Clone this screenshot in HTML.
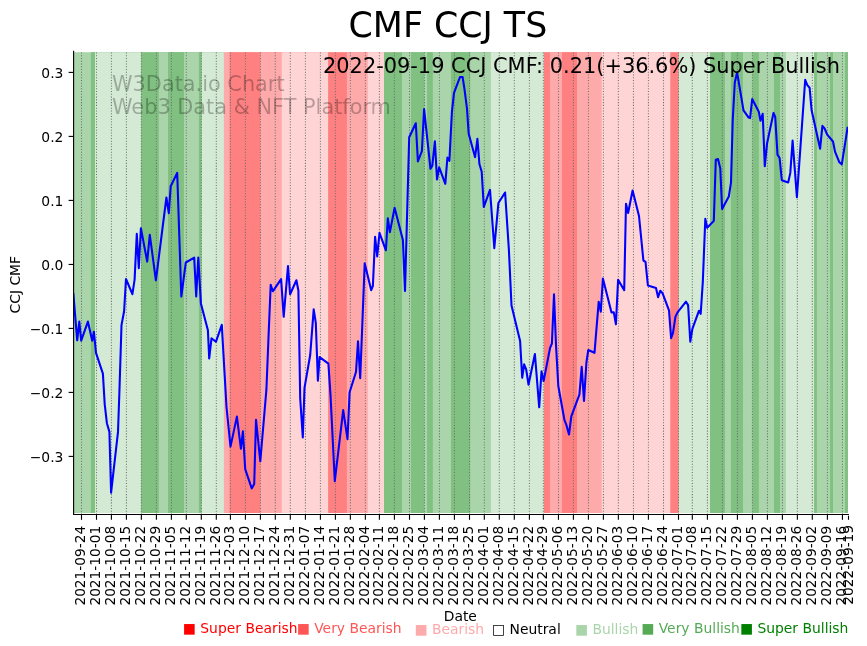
<!DOCTYPE html>
<html lang="en"><head><meta charset="utf-8"><title>CMF CCJ TS</title>
<style>html,body{margin:0;padding:0;background:#fff}svg{display:block;will-change:transform}text{font-family:"DejaVu Sans", "Liberation Sans", sans-serif}</style>
</head><body>
<svg width="867" height="646" viewBox="0 0 867 646">
<rect width="867" height="646" fill="#fff"/>
<g shape-rendering="auto">
<rect x="73.60" y="52.20" width="774.30" height="460.80" fill="#aad5aa"/>
<rect x="90.90" y="52.20" width="757.00" height="460.80" fill="#80c080"/>
<rect x="94.95" y="52.20" width="752.95" height="460.80" fill="#d4ead4"/>
<rect x="141.10" y="52.20" width="706.80" height="460.80" fill="#80c080"/>
<rect x="158.86" y="52.20" width="689.04" height="460.80" fill="#aad5aa"/>
<rect x="168.00" y="52.20" width="679.90" height="460.80" fill="#80c080"/>
<rect x="183.96" y="52.20" width="663.94" height="460.80" fill="#aad5aa"/>
<rect x="198.90" y="52.20" width="649.00" height="460.80" fill="#80c080"/>
<rect x="201.70" y="52.20" width="646.20" height="460.80" fill="#d4ead4"/>
<rect x="223.90" y="52.20" width="624.00" height="460.80" fill="#ffaaaa"/>
<rect x="229.60" y="52.20" width="618.30" height="460.80" fill="#ff8080"/>
<rect x="260.40" y="52.20" width="587.50" height="460.80" fill="#ffaaaa"/>
<rect x="281.80" y="52.20" width="566.10" height="460.80" fill="#ffd4d4"/>
<rect x="328.10" y="52.20" width="519.80" height="460.80" fill="#ff8080"/>
<rect x="346.90" y="52.20" width="501.00" height="460.80" fill="#ffaaaa"/>
<rect x="367.80" y="52.20" width="480.10" height="460.80" fill="#ffd4d4"/>
<rect x="384.00" y="52.20" width="463.90" height="460.80" fill="#80c080"/>
<rect x="402.00" y="52.20" width="445.90" height="460.80" fill="#aad5aa"/>
<rect x="411.00" y="52.20" width="436.90" height="460.80" fill="#80c080"/>
<rect x="424.30" y="52.20" width="423.60" height="460.80" fill="#aad5aa"/>
<rect x="427.10" y="52.20" width="420.80" height="460.80" fill="#80c080"/>
<rect x="432.80" y="52.20" width="415.10" height="460.80" fill="#aad5aa"/>
<rect x="450.96" y="52.20" width="396.94" height="460.80" fill="#80c080"/>
<rect x="470.25" y="52.20" width="377.65" height="460.80" fill="#aad5aa"/>
<rect x="490.90" y="52.20" width="357.00" height="460.80" fill="#d4ead4"/>
<rect x="543.86" y="52.20" width="304.04" height="460.80" fill="#ff8080"/>
<rect x="549.95" y="52.20" width="297.95" height="460.80" fill="#ffaaaa"/>
<rect x="562.00" y="52.20" width="285.90" height="460.80" fill="#ff8080"/>
<rect x="577.00" y="52.20" width="270.90" height="460.80" fill="#ffaaaa"/>
<rect x="601.70" y="52.20" width="246.20" height="460.80" fill="#ffd4d4"/>
<rect x="670.25" y="52.20" width="177.65" height="460.80" fill="#ff8080"/>
<rect x="678.70" y="52.20" width="169.20" height="460.80" fill="#d4ead4"/>
<rect x="710.00" y="52.20" width="137.90" height="460.80" fill="#80c080"/>
<rect x="724.95" y="52.20" width="122.95" height="460.80" fill="#aad5aa"/>
<rect x="730.90" y="52.20" width="117.00" height="460.80" fill="#80c080"/>
<rect x="742.97" y="52.20" width="104.93" height="460.80" fill="#aad5aa"/>
<rect x="752.50" y="52.20" width="95.40" height="460.80" fill="#80c080"/>
<rect x="758.80" y="52.20" width="89.10" height="460.80" fill="#aad5aa"/>
<rect x="773.95" y="52.20" width="73.95" height="460.80" fill="#80c080"/>
<rect x="780.00" y="52.20" width="67.90" height="460.80" fill="#aad5aa"/>
<rect x="785.90" y="52.20" width="62.00" height="460.80" fill="#d4ead4"/>
<rect x="814.10" y="52.20" width="33.80" height="460.80" fill="#80c080"/>
<rect x="816.90" y="52.20" width="31.00" height="460.80" fill="#aad5aa"/>
<rect x="830.10" y="52.20" width="17.80" height="460.80" fill="#80c080"/>
<rect x="833.00" y="52.20" width="14.90" height="460.80" fill="#aad5aa"/>
<rect x="845.00" y="52.20" width="2.90" height="460.80" fill="#80c080"/>
</g>
<g stroke="#6b7070" stroke-width="1.04" stroke-dasharray="1.0417 1.7187" fill="none">
<path d="M81.50 514.45V50.8"/>
<path d="M96.50 514.45V50.8"/>
<path d="M111.40 514.45V50.8"/>
<path d="M126.40 514.45V50.8"/>
<path d="M141.35 514.45V50.8"/>
<path d="M156.40 514.45V50.8"/>
<path d="M171.40 514.45V50.8"/>
<path d="M186.30 514.45V50.8"/>
<path d="M201.30 514.45V50.8"/>
<path d="M216.30 514.45V50.8"/>
<path d="M230.40 514.45V50.8"/>
<path d="M245.40 514.45V50.8"/>
<path d="M260.40 514.45V50.8"/>
<path d="M275.30 514.45V50.8"/>
<path d="M290.30 514.45V50.8"/>
<path d="M305.40 514.45V50.8"/>
<path d="M320.40 514.45V50.8"/>
<path d="M335.40 514.45V50.8"/>
<path d="M350.35 514.45V50.8"/>
<path d="M365.35 514.45V50.8"/>
<path d="M379.40 514.45V50.8"/>
<path d="M394.40 514.45V50.8"/>
<path d="M409.50 514.45V50.8"/>
<path d="M424.40 514.45V50.8"/>
<path d="M439.40 514.45V50.8"/>
<path d="M454.40 514.45V50.8"/>
<path d="M469.50 514.45V50.8"/>
<path d="M484.30 514.45V50.8"/>
<path d="M499.30 514.45V50.8"/>
<path d="M514.30 514.45V50.8"/>
<path d="M529.40 514.45V50.8"/>
<path d="M543.35 514.45V50.8"/>
<path d="M558.45 514.45V50.8"/>
<path d="M573.40 514.45V50.8"/>
<path d="M588.40 514.45V50.8"/>
<path d="M603.40 514.45V50.8"/>
<path d="M618.35 514.45V50.8"/>
<path d="M633.45 514.45V50.8"/>
<path d="M648.40 514.45V50.8"/>
<path d="M663.50 514.45V50.8"/>
<path d="M678.50 514.45V50.8"/>
<path d="M692.30 514.45V50.8"/>
<path d="M707.40 514.45V50.8"/>
<path d="M722.40 514.45V50.8"/>
<path d="M737.40 514.45V50.8"/>
<path d="M752.40 514.45V50.8"/>
<path d="M767.40 514.45V50.8"/>
<path d="M782.40 514.45V50.8"/>
<path d="M797.35 514.45V50.8"/>
<path d="M812.30 514.45V50.8"/>
<path d="M827.40 514.45V50.8"/>
<path d="M842.45 514.45V50.8"/>
</g>
<clipPath id="ax"><rect x="73.6" y="51.4" width="774.4" height="463.05"/></clipPath>
<polyline clip-path="url(#ax)" points="73.3,293.0 77.2,340.3 79.3,321.6 81.2,340.7 87.9,321.6 92.2,340.7 93.9,331.7 96.0,352.8 102.9,373.6 104.7,404.1 106.9,423.2 109.4,431.9 111.1,492.6 118.0,431.9 119.4,392.0 121.5,325.1 124.1,311.2 126.0,279.0 132.4,294.2 134.6,279.6 136.8,233.9 138.8,268.1 140.9,228.3 147.2,261.6 149.8,234.8 155.9,280.3 166.4,197.5 168.8,213.1 170.7,186.2 177.2,172.9 181.3,296.5 185.8,262.5 194.2,257.6 196.2,296.5 198.3,257.6 200.9,303.4 207.9,330.3 209.2,358.5 211.5,338.3 215.9,341.8 221.8,324.9 223.5,355.0 226.5,407.0 230.5,446.6 236.9,416.6 240.9,448.6 242.9,431.3 245.2,469.1 251.7,488.4 254.2,484.0 256.0,419.7 260.3,461.3 266.4,389.7 268.4,340.0 270.7,284.7 272.8,291.3 281.1,279.1 283.7,316.8 288.0,266.0 290.1,294.2 296.4,280.3 298.4,290.7 300.2,398.3 302.8,437.4 304.5,387.9 310.2,355.0 313.7,309.3 315.8,322.8 317.9,380.7 319.6,357.1 328.4,363.7 330.5,394.9 334.8,481.2 343.2,410.1 347.5,439.1 349.6,392.3 356.0,372.0 358.0,341.2 360.2,378.3 364.7,263.3 371.2,290.2 372.9,285.8 375.1,236.8 377.2,256.4 379.5,232.9 385.9,250.3 387.8,218.2 389.9,232.1 394.6,207.8 402.9,239.9 405.0,291.0 409.2,137.2 415.8,123.3 417.9,161.4 421.9,151.0 424.1,109.1 430.5,168.8 432.3,165.8 434.9,141.2 437.0,179.5 439.2,167.4 445.3,183.8 447.4,157.6 449.4,160.8 451.9,112.0 454.0,92.9 460.0,77.0 462.6,77.0 464.4,88.6 467.0,108.6 468.7,133.7 475.1,157.2 477.4,138.9 479.4,164.0 481.7,171.7 483.8,206.9 490.0,189.9 494.3,248.1 498.4,203.0 505.1,192.5 508.9,250.0 511.5,305.5 520.1,341.0 522.2,377.8 524.1,364.3 526.2,369.5 528.5,384.7 534.9,354.0 539.2,407.3 541.5,371.2 543.6,381.1 550.1,347.8 551.9,343.5 554.0,294.2 556.0,345.0 558.3,386.0 564.4,419.8 566.4,425.0 569.0,434.5 571.3,416.3 579.4,394.6 581.7,366.9 584.0,401.0 586.4,362.5 588.3,350.0 594.5,352.8 598.7,301.7 600.8,311.6 602.9,278.5 611.5,312.4 613.8,312.4 615.9,324.2 618.1,279.8 624.2,290.2 626.0,203.8 628.1,213.0 632.6,190.5 639.0,216.0 643.4,260.5 645.5,261.8 647.9,285.5 656.0,288.1 658.1,297.2 660.3,290.7 662.6,293.3 669.0,310.3 671.1,338.1 673.0,332.9 675.4,316.8 677.7,312.1 686.0,301.7 688.1,305.1 690.3,341.6 692.4,328.9 699.0,310.7 700.7,313.8 702.8,282.1 705.3,218.9 707.2,227.8 713.8,220.9 715.8,159.8 718.0,159.0 720.3,168.6 722.1,209.0 728.8,196.6 731.0,182.7 732.7,120.7 734.8,82.5 737.1,72.5 743.5,110.3 748.3,117.2 750.1,118.1 752.2,99.0 758.8,111.7 760.5,120.7 762.7,113.8 764.8,166.2 767.1,143.2 773.5,112.9 775.2,116.9 777.5,154.6 779.6,158.0 781.8,180.2 788.2,182.5 790.3,172.9 792.6,140.6 796.9,197.2 805.2,79.9 807.3,85.1 809.6,87.7 811.6,110.3 820.1,148.8 822.4,125.9 824.6,128.5 827.2,134.6 833.0,141.5 835.1,151.9 839.4,162.3 841.8,164.4 847.7,126.8" fill="none" stroke="#0000ff" stroke-width="2.08" stroke-linejoin="round" stroke-linecap="butt"/>
<g stroke="#000" stroke-width="1.11" fill="none" stroke-linecap="square">
<path d="M73.6 51.4V514.45H848.35"/>
</g>
<g stroke="#000" stroke-width="1.11" fill="none">
<path d="M81.50 514.45V519.8"/>
<path d="M96.50 514.45V519.8"/>
<path d="M111.40 514.45V519.8"/>
<path d="M126.40 514.45V519.8"/>
<path d="M141.35 514.45V519.8"/>
<path d="M156.40 514.45V519.8"/>
<path d="M171.40 514.45V519.8"/>
<path d="M186.30 514.45V519.8"/>
<path d="M201.30 514.45V519.8"/>
<path d="M216.30 514.45V519.8"/>
<path d="M230.40 514.45V519.8"/>
<path d="M245.40 514.45V519.8"/>
<path d="M260.40 514.45V519.8"/>
<path d="M275.30 514.45V519.8"/>
<path d="M290.30 514.45V519.8"/>
<path d="M305.40 514.45V519.8"/>
<path d="M320.40 514.45V519.8"/>
<path d="M335.40 514.45V519.8"/>
<path d="M350.35 514.45V519.8"/>
<path d="M365.35 514.45V519.8"/>
<path d="M379.40 514.45V519.8"/>
<path d="M394.40 514.45V519.8"/>
<path d="M409.50 514.45V519.8"/>
<path d="M424.40 514.45V519.8"/>
<path d="M439.40 514.45V519.8"/>
<path d="M454.40 514.45V519.8"/>
<path d="M469.50 514.45V519.8"/>
<path d="M484.30 514.45V519.8"/>
<path d="M499.30 514.45V519.8"/>
<path d="M514.30 514.45V519.8"/>
<path d="M529.40 514.45V519.8"/>
<path d="M543.35 514.45V519.8"/>
<path d="M558.45 514.45V519.8"/>
<path d="M573.40 514.45V519.8"/>
<path d="M588.40 514.45V519.8"/>
<path d="M603.40 514.45V519.8"/>
<path d="M618.35 514.45V519.8"/>
<path d="M633.45 514.45V519.8"/>
<path d="M648.40 514.45V519.8"/>
<path d="M663.50 514.45V519.8"/>
<path d="M678.50 514.45V519.8"/>
<path d="M692.30 514.45V519.8"/>
<path d="M707.40 514.45V519.8"/>
<path d="M722.40 514.45V519.8"/>
<path d="M737.40 514.45V519.8"/>
<path d="M752.40 514.45V519.8"/>
<path d="M767.40 514.45V519.8"/>
<path d="M782.40 514.45V519.8"/>
<path d="M797.35 514.45V519.8"/>
<path d="M812.30 514.45V519.8"/>
<path d="M827.40 514.45V519.8"/>
<path d="M842.45 514.45V519.8"/>
<path d="M848.5 515.7V519.8"/>
<path d="M73.6 72.40H68.6"/>
<path d="M73.6 136.40H68.6"/>
<path d="M73.6 200.40H68.6"/>
<path d="M73.6 264.45H68.6"/>
<path d="M73.6 328.40H68.6"/>
<path d="M73.6 392.40H68.6"/>
<path d="M73.6 456.40H68.6"/>
</g>
<g font-size="13.75" fill="#000" text-anchor="end">
<text transform="translate(85.10 525.7) rotate(-90)">2021-09-24</text>
<text transform="translate(100.10 525.7) rotate(-90)">2021-10-01</text>
<text transform="translate(115.00 525.7) rotate(-90)">2021-10-08</text>
<text transform="translate(130.00 525.7) rotate(-90)">2021-10-15</text>
<text transform="translate(144.95 525.7) rotate(-90)">2021-10-22</text>
<text transform="translate(160.00 525.7) rotate(-90)">2021-10-29</text>
<text transform="translate(175.00 525.7) rotate(-90)">2021-11-05</text>
<text transform="translate(189.90 525.7) rotate(-90)">2021-11-12</text>
<text transform="translate(204.90 525.7) rotate(-90)">2021-11-19</text>
<text transform="translate(219.90 525.7) rotate(-90)">2021-11-26</text>
<text transform="translate(234.00 525.7) rotate(-90)">2021-12-03</text>
<text transform="translate(249.00 525.7) rotate(-90)">2021-12-10</text>
<text transform="translate(264.00 525.7) rotate(-90)">2021-12-17</text>
<text transform="translate(278.90 525.7) rotate(-90)">2021-12-24</text>
<text transform="translate(293.90 525.7) rotate(-90)">2021-12-31</text>
<text transform="translate(309.00 525.7) rotate(-90)">2022-01-07</text>
<text transform="translate(324.00 525.7) rotate(-90)">2022-01-14</text>
<text transform="translate(339.00 525.7) rotate(-90)">2022-01-21</text>
<text transform="translate(353.95 525.7) rotate(-90)">2022-01-28</text>
<text transform="translate(368.95 525.7) rotate(-90)">2022-02-04</text>
<text transform="translate(383.00 525.7) rotate(-90)">2022-02-11</text>
<text transform="translate(398.00 525.7) rotate(-90)">2022-02-18</text>
<text transform="translate(413.10 525.7) rotate(-90)">2022-02-25</text>
<text transform="translate(428.00 525.7) rotate(-90)">2022-03-04</text>
<text transform="translate(443.00 525.7) rotate(-90)">2022-03-11</text>
<text transform="translate(458.00 525.7) rotate(-90)">2022-03-18</text>
<text transform="translate(473.10 525.7) rotate(-90)">2022-03-25</text>
<text transform="translate(487.90 525.7) rotate(-90)">2022-04-01</text>
<text transform="translate(502.90 525.7) rotate(-90)">2022-04-08</text>
<text transform="translate(517.90 525.7) rotate(-90)">2022-04-15</text>
<text transform="translate(533.00 525.7) rotate(-90)">2022-04-22</text>
<text transform="translate(546.95 525.7) rotate(-90)">2022-04-29</text>
<text transform="translate(562.05 525.7) rotate(-90)">2022-05-06</text>
<text transform="translate(577.00 525.7) rotate(-90)">2022-05-13</text>
<text transform="translate(592.00 525.7) rotate(-90)">2022-05-20</text>
<text transform="translate(607.00 525.7) rotate(-90)">2022-05-27</text>
<text transform="translate(621.95 525.7) rotate(-90)">2022-06-03</text>
<text transform="translate(637.05 525.7) rotate(-90)">2022-06-10</text>
<text transform="translate(652.00 525.7) rotate(-90)">2022-06-17</text>
<text transform="translate(667.10 525.7) rotate(-90)">2022-06-24</text>
<text transform="translate(682.10 525.7) rotate(-90)">2022-07-01</text>
<text transform="translate(695.90 525.7) rotate(-90)">2022-07-08</text>
<text transform="translate(711.00 525.7) rotate(-90)">2022-07-15</text>
<text transform="translate(726.00 525.7) rotate(-90)">2022-07-22</text>
<text transform="translate(741.00 525.7) rotate(-90)">2022-07-29</text>
<text transform="translate(756.00 525.7) rotate(-90)">2022-08-05</text>
<text transform="translate(771.00 525.7) rotate(-90)">2022-08-12</text>
<text transform="translate(786.00 525.7) rotate(-90)">2022-08-19</text>
<text transform="translate(800.95 525.7) rotate(-90)">2022-08-26</text>
<text transform="translate(815.90 525.7) rotate(-90)">2022-09-02</text>
<text transform="translate(831.00 525.7) rotate(-90)">2022-09-09</text>
<text transform="translate(846.05 525.7) rotate(-90)">2022-09-16</text>
<text transform="translate(853.00 524.9) rotate(-90)">2022-09-19</text>
</g>
<g font-size="13.89" fill="#000" text-anchor="end">
<text x="63.4" y="77.65">0.3</text>
<text x="63.4" y="141.65">0.2</text>
<text x="63.4" y="205.65">0.1</text>
<text x="63.4" y="269.70">0.0</text>
<text x="63.4" y="333.65">−0.1</text>
<text x="63.4" y="397.65">−0.2</text>
<text x="63.4" y="461.65">−0.3</text>
</g>
<text font-size="13.89" text-anchor="middle" transform="translate(20.1 284.7) rotate(-90)">CCJ CMF</text>
<text font-size="13.89" text-anchor="middle" x="460.3" y="620.5">Date</text>
<text font-size="34.80" text-anchor="middle" x="447.90" y="37.00">CMF CCJ TS</text>
<text font-size="20.90" text-anchor="end" x="840.00" y="72.90">2022-09-19 CCJ CMF: 0.21(+36.6%) Super Bullish</text>
<g font-size="20.83" fill="#000" fill-opacity="0.27">
<text x="112.00" y="90.50">W3Data.io Chart</text>
<text x="112.00" y="113.50">Web3 Data &amp; NFT Platform</text>
</g>
<g font-size="13.89">
<text x="182.80" y="632.80" fill="#ff0000">■ Super Bearish</text>
<text x="296.70" y="632.80" fill="#ff5555">■ Very Bearish</text>
<text x="414.40" y="633.70" fill="#ffaaaa">■ Bearish</text>
<text x="492.00" y="633.70" fill="#000000">□ Neutral</text>
<text x="574.90" y="633.90" fill="#aad5aa">■ Bullish</text>
<text x="641.20" y="632.80" fill="#55aa55">■ Very Bullish</text>
<text x="739.90" y="632.60" fill="#008000">■ Super Bullish</text>
</g>
</svg>
</body></html>
